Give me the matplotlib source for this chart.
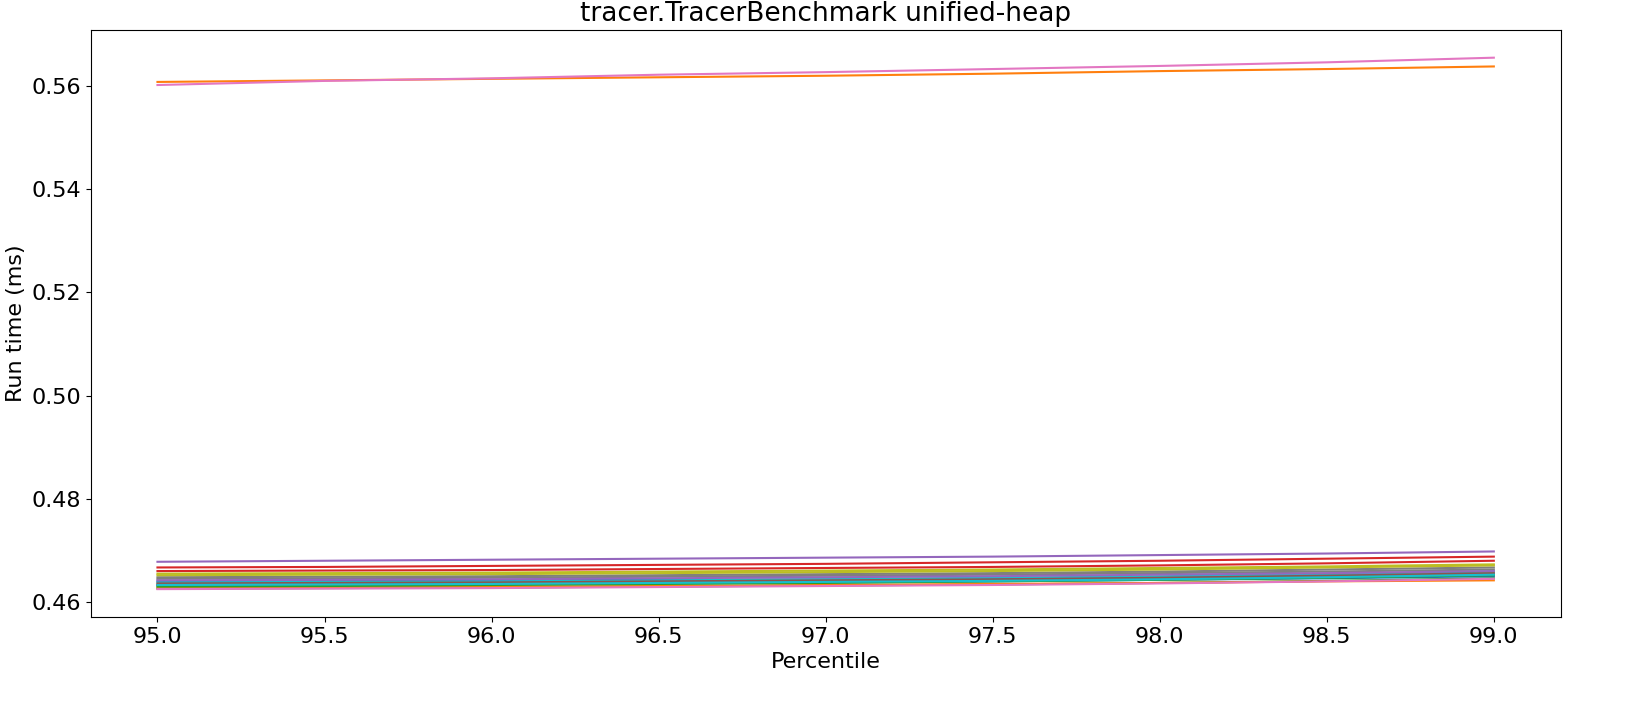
import matplotlib
matplotlib.use("Agg")
import matplotlib.pyplot as plt

percentiles = [95.0, 95.5, 96.0, 96.5, 97.0, 97.5, 98.0, 98.5, 99.0]

# one list per run, in plotting order (tab10 colour cycle)
runs = [
    [0.4640, 0.4641, 0.4642, 0.4643, 0.4644, 0.4646, 0.4648, 0.4651, 0.4655],
    [0.5608, 0.5611, 0.5614, 0.5617, 0.5620, 0.5624, 0.5629, 0.5633, 0.5638],
    [0.4626, 0.4627, 0.4628, 0.4630, 0.4632, 0.4634, 0.4637, 0.4641, 0.4646],
    [0.4667, 0.4668, 0.4670, 0.4672, 0.4674, 0.4677, 0.4680, 0.4684, 0.4688],
    [0.4678, 0.4680, 0.4682, 0.4684, 0.4686, 0.4688, 0.4691, 0.4694, 0.4698],
    [0.4634, 0.4635, 0.4636, 0.4638, 0.4640, 0.4642, 0.4645, 0.4648, 0.4652],
    [0.5602, 0.5610, 0.5615, 0.5622, 0.5627, 0.5633, 0.5639, 0.5646, 0.5655],
    [0.4645, 0.4646, 0.4647, 0.4649, 0.4651, 0.4653, 0.4656, 0.4659, 0.4663],
    [0.4655, 0.4656, 0.4657, 0.4659, 0.4661, 0.4663, 0.4666, 0.4669, 0.4673],
    [0.4638, 0.4639, 0.4640, 0.4642, 0.4644, 0.4647, 0.4650, 0.4654, 0.4659],
    [0.4632, 0.4633, 0.4634, 0.4636, 0.4638, 0.4640, 0.4643, 0.4646, 0.4650],
    [0.4628, 0.4629, 0.4630, 0.4631, 0.4633, 0.4635, 0.4637, 0.4640, 0.4642],
    [0.4630, 0.4631, 0.4633, 0.4635, 0.4637, 0.4640, 0.4643, 0.4647, 0.4652],
    [0.4660, 0.4661, 0.4662, 0.4664, 0.4666, 0.4668, 0.4671, 0.4675, 0.4680],
    [0.4642, 0.4643, 0.4644, 0.4646, 0.4648, 0.4650, 0.4653, 0.4656, 0.4660],
    [0.4636, 0.4637, 0.4638, 0.4640, 0.4642, 0.4644, 0.4647, 0.4651, 0.4656],
    [0.4625, 0.4626, 0.4627, 0.4629, 0.4631, 0.4633, 0.4636, 0.4640, 0.4645],
    [0.4648, 0.4649, 0.4650, 0.4652, 0.4654, 0.4656, 0.4659, 0.4663, 0.4667],
    [0.4652, 0.4653, 0.4654, 0.4656, 0.4658, 0.4660, 0.4663, 0.4667, 0.4671],
    [0.4633, 0.4634, 0.4635, 0.4637, 0.4639, 0.4641, 0.4644, 0.4648, 0.4653],
]

fig = plt.figure(figsize=(16.48, 7.1), dpi=100)
ax = fig.add_axes([0.055, 0.131, 0.892, 0.827])
for run in runs:
    ax.plot(percentiles, run, linewidth=1.5)

ax.set_title("tracer.TracerBenchmark unified-heap", fontsize=19)
ax.set_xlabel("Percentile", fontsize=16)
ax.set_ylabel("Run time (ms)", fontsize=16)
ax.tick_params(labelsize=16)
ax.set_ylim(0.4571, 0.5709)
ax.set_yticks([0.46, 0.48, 0.50, 0.52, 0.54, 0.56])
plt.savefig("out.png", dpi=100)
